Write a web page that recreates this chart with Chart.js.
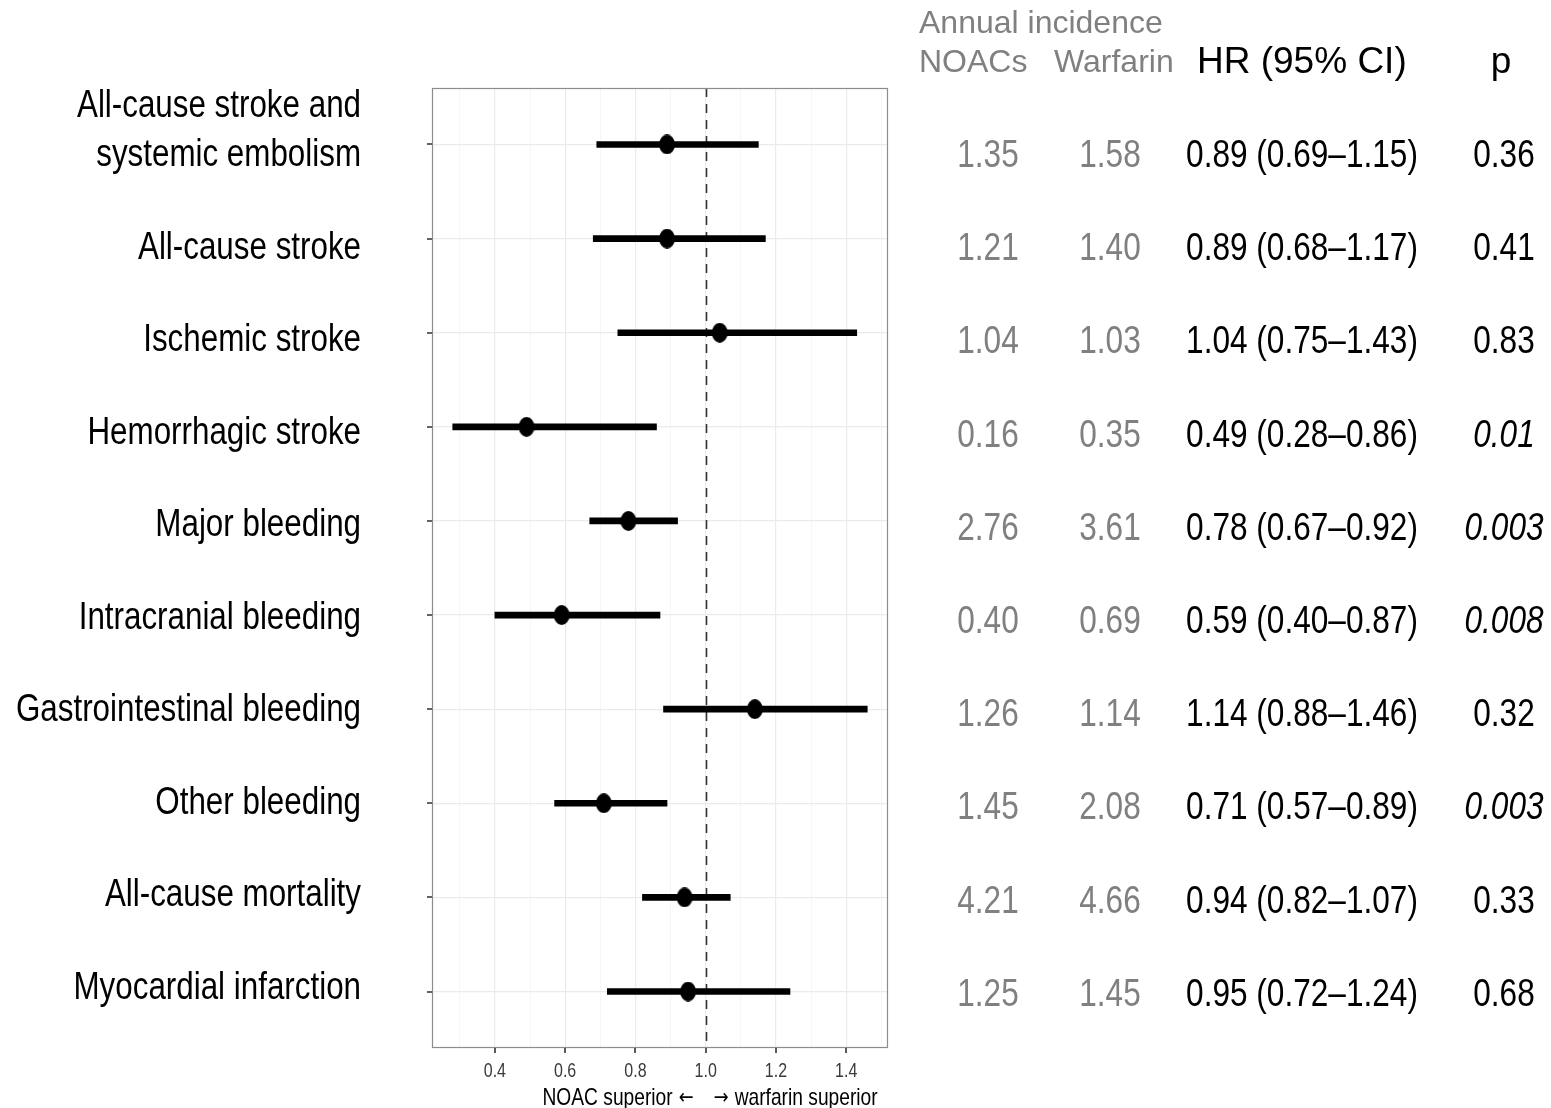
<!DOCTYPE html>
<html>
<head>
<meta charset="utf-8">
<script src="https://cdn.jsdelivr.net/npm/chart.js@4.4.1/dist/chart.umd.min.js"></script>
<style>
  html, body { margin: 0; padding: 0; background: #fff; }
  #forest { display: block; }
</style>
</head>
<body>
<canvas id="forest" width="1551" height="1108"></canvas>
<script>
// outcomes, top to bottom
const outcomes = [
  ['All-cause stroke and', 'systemic embolism'],
  ['All-cause stroke'],
  ['Ischemic stroke'],
  ['Hemorrhagic stroke'],
  ['Major bleeding'],
  ['Intracranial bleeding'],
  ['Gastrointestinal bleeding'],
  ['Other bleeding'],
  ['All-cause mortality'],
  ['Myocardial infarction']
];
const hazardRatio = [0.89, 0.89, 1.04, 0.49, 0.78, 0.59, 1.14, 0.71, 0.94, 0.95];
const ciLower     = [0.69, 0.68, 0.75, 0.28, 0.67, 0.40, 0.88, 0.57, 0.82, 0.72];
const ciUpper     = [1.15, 1.17, 1.43, 0.86, 0.92, 0.87, 1.46, 0.89, 1.07, 1.24];
const incidenceNoac     = ['1.35', '1.21', '1.04', '0.16', '2.76', '0.40', '1.26', '1.45', '4.21', '1.25'];
const incidenceWarfarin = ['1.58', '1.40', '1.03', '0.35', '3.61', '0.69', '1.14', '2.08', '4.66', '1.45'];
const pValues = ['0.36', '0.41', '0.83', '0.01', '0.003', '0.008', '0.32', '0.003', '0.33', '0.68'];

const majorTicks = [0.4, 0.6, 0.8, 1.0, 1.2, 1.4];
const minorTicks = [0.3, 0.5, 0.7, 0.9, 1.1, 1.3, 1.5];
const axisTitleLeft = 'NOAC superior';
const axisTitleRight = 'warfarin superior';

const FONT = '"Liberation Sans", Arial, Helvetica, sans-serif';
const GREY = '#808080';

// text is drawn a bit condensed, like the original figure
function drawText(ctx, text, x, y, opts) {
  ctx.save();
  ctx.font = opts.font;
  ctx.fillStyle = opts.color || '#000';
  ctx.textAlign = opts.align || 'left';
  ctx.textBaseline = 'alphabetic';
  ctx.translate(x, y);
  ctx.scale(opts.sx || 1, 1);
  ctx.fillText(text, 0, 0);
  ctx.restore();
}

function isMajor(v) {
  return majorTicks.some(m => Math.abs(m - v) < 1e-6);
}

// slightly tall ellipse used as the point marker
function makeDot() {
  const c = document.createElement('canvas');
  c.width = 16; c.height = 20;
  const g = c.getContext('2d');
  g.fillStyle = '#000';
  g.beginPath();
  g.ellipse(8, 10, 7.9, 9.9, 0, 0, Math.PI * 2);
  g.fill();
  return c;
}

const refLine = {
  id: 'refLine',
  beforeDatasetsDraw(chart) {
    const { ctx, chartArea: a, scales: { x } } = chart;
    const px = Math.round(x.getPixelForValue(1.0)) + 0.5;
    ctx.save();
    ctx.strokeStyle = '#333';
    ctx.lineWidth = 1.6;
    ctx.setLineDash([9, 7]);
    ctx.beginPath();
    ctx.moveTo(px, a.top);
    ctx.lineTo(px, a.bottom);
    ctx.stroke();
    ctx.restore();
  }
};

const forestText = {
  id: 'forestText',
  afterDraw(chart) {
    const { ctx, chartArea: a, scales: { x, y } } = chart;

    // panel border
    ctx.save();
    ctx.strokeStyle = '#8c8c8c';
    ctx.lineWidth = 1.2;
    ctx.strokeRect(a.left + 0.5, a.top + 0.5, a.right - a.left - 1, a.bottom - a.top - 1);

    // axis tick marks
    ctx.strokeStyle = '#333';
    ctx.lineWidth = 1.6;
    ctx.beginPath();
    outcomes.forEach((_, i) => {
      const py = Math.round(y.getPixelForValue(i));
      ctx.moveTo(a.left - 5, py);
      ctx.lineTo(a.left, py);
    });
    majorTicks.forEach(v => {
      const px = Math.round(x.getPixelForValue(v));
      ctx.moveTo(px, a.bottom);
      ctx.lineTo(px, a.bottom + 5);
    });
    ctx.stroke();
    ctx.restore();

    // x tick labels and axis title
    majorTicks.forEach(v => {
      drawText(ctx, v.toFixed(1), x.getPixelForValue(v), 1077,
        { font: '20px ' + FONT, color: '#3a3a3a', align: 'center', sx: 0.8 });
    });
    const mid = x.getPixelForValue(1.0);
    const titleFont = '24px ' + FONT;
    const arrowFont = '21px "DejaVu Sans", sans-serif';
    drawText(ctx, axisTitleLeft, mid - 33, 1105, { font: titleFont, align: 'right', sx: 0.8 });
    drawText(ctx, '\u2190', mid - 12, 1104, { font: arrowFont, align: 'right', sx: 0.85 });
    drawText(ctx, '\u2192', mid + 8, 1104, { font: arrowFont, align: 'left', sx: 0.85 });
    drawText(ctx, axisTitleRight, mid + 29, 1105, { font: titleFont, align: 'left', sx: 0.8 });

    // outcome labels on the left
    const labelTop = 152.5, labelStep = 92.5;
    outcomes.forEach((lines, i) => {
      const base = labelTop + i * labelStep + 13.5;
      lines.forEach((line, k) => {
        const yy = base - (lines.length - 1 - k) * 49;
        drawText(ctx, line, 361, yy, { font: '38px ' + FONT, align: 'right', sx: 0.825 });
      });
    });

    // table headers
    const head = '32px ' + FONT;
    drawText(ctx, 'Annual incidence', 919, 33, { font: head, color: GREY });
    drawText(ctx, 'NOACs', 919, 72, { font: head, color: GREY });
    drawText(ctx, 'Warfarin', 1054, 72, { font: head, color: GREY });
    drawText(ctx, 'HR (95% CI)', 1197, 73, { font: '37px ' + FONT });
    drawText(ctx, 'p', 1501, 73, { font: '37px ' + FONT, align: 'center' });

    // table rows
    const rowTop = 153, rowStep = 93.2;
    const val = '39px ' + FONT;
    outcomes.forEach((_, i) => {
      const yy = rowTop + i * rowStep + 14;
      drawText(ctx, incidenceNoac[i], 988, yy, { font: val, color: GREY, align: 'center', sx: 0.81 });
      drawText(ctx, incidenceWarfarin[i], 1110, yy, { font: val, color: GREY, align: 'center', sx: 0.81 });
      const hr = hazardRatio[i].toFixed(2) + ' (' + ciLower[i].toFixed(2) + '\u2013' + ciUpper[i].toFixed(2) + ')';
      drawText(ctx, hr, 1302, yy, { font: val, align: 'center', sx: 0.81 });
      const sig = parseFloat(pValues[i]) < 0.05;
      drawText(ctx, pValues[i], 1504, yy, { font: (sig ? 'italic ' : '') + val, align: 'center', sx: 0.81 });
    });
  }
};

const dot = makeDot();

new Chart(document.getElementById('forest'), {
  type: 'scatter',
  data: {
    datasets: [
      {
        type: 'scatter',
        data: hazardRatio.map((v, i) => ({ x: v, y: i })),
        pointStyle: dot,
        pointRadius: 9,
        backgroundColor: '#000',
        borderColor: '#000'
      },
      {
        type: 'bar',
        indexAxis: 'y',
        data: ciLower.map((lo, i) => ({ x: [lo, ciUpper[i]], y: i })),
        backgroundColor: '#000',
        borderWidth: 0,
        barThickness: 6
      }
    ]
  },
  options: {
    responsive: false,
    animation: false,
    devicePixelRatio: 1,
    layout: { padding: { left: 432, top: 88, right: 663, bottom: 60 } },
    plugins: { legend: { display: false }, tooltip: { enabled: false } },
    scales: {
      x: {
        type: 'linear',
        min: 0.221,
        max: 1.519,
        offset: false,
        afterBuildTicks: s => { s.ticks = majorTicks.concat(minorTicks).map(v => ({ value: v })); },
        ticks: { display: false },
        grid: {
          offset: false,
          drawTicks: false,
          color: c => isMajor(c.tick.value) ? '#ebebeb' : '#f4f4f4',
          lineWidth: c => isMajor(c.tick.value) ? 1.2 : 0.8
        },
        border: { display: false }
      },
      y: {
        type: 'linear',
        min: -0.6,
        max: 9.6,
        reverse: true,
        offset: false,
        afterBuildTicks: s => { s.ticks = outcomes.map((_, i) => ({ value: i })); },
        ticks: { display: false },
        grid: { offset: false, drawTicks: false, color: '#ebebeb', lineWidth: 1.2 },
        border: { display: false }
      }
    }
  },
  plugins: [refLine, forestText]
});
</script>
</body>
</html>
